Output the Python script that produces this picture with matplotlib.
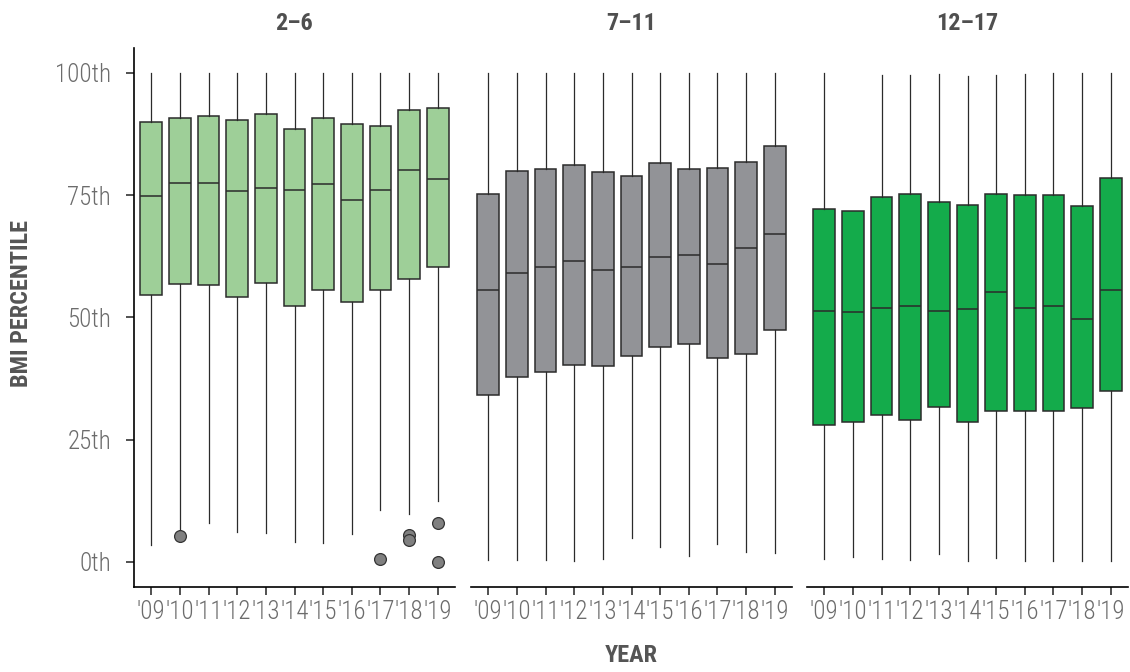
import matplotlib
matplotlib.use('Agg')
import matplotlib.pyplot as plt

plt.rcParams['font.family'] = ['Roboto Condensed', 'DejaVu Sans']

# data
years = ["'09", "'10", "'11", "'12", "'13", "'14", "'15", "'16", "'17", "'18", "'19"]
panels = ['2–6', '7–11', '12–17']
colors = ['#9ecf98', '#929397', '#14ab4b']

q1_26 = [54.6, 56.9, 56.7, 54.1, 57.1, 52.4, 55.7, 53.1, 55.6, 57.8, 60.3]
med_26 = [74.8, 77.4, 77.4, 75.9, 76.5, 76.0, 77.3, 74.0, 76.1, 80.2, 78.3]
q3_26 = [90.0, 90.8, 91.2, 90.3, 91.5, 88.6, 90.7, 89.5, 89.2, 92.4, 92.8]
lo_26 = [3.4, 6.4, 8.0, 6.1, 5.9, 4.0, 3.8, 5.7, 10.6, 9.8, 12.5]
hi_26 = [100, 100, 100, 100, 100, 100, 100, 100, 100, 100, 100]
out_26 = [[], [5.2], [], [], [], [], [], [], [0.6], [5.4, 4.4], [7.9, 0.0]]

q1_711 = [34.2, 37.8, 38.8, 40.2, 40.0, 42.1, 43.9, 44.6, 41.6, 42.6, 47.4]
med_711 = [55.5, 59.1, 60.4, 61.5, 59.6, 60.4, 62.3, 62.7, 60.9, 64.1, 67.1]
q3_711 = [75.3, 79.9, 80.3, 81.2, 79.8, 78.9, 81.5, 80.3, 80.5, 81.8, 85.1]
lo_711 = [0.4, 0.3, 0.4, 0.1, 0.6, 4.9, 3.0, 1.1, 3.7, 2.1, 1.8]
hi_711 = [100, 100, 100, 100, 100, 100, 100, 100, 100, 100, 100]

q1_1217 = [27.9, 28.5, 30.1, 29.0, 31.6, 28.6, 30.9, 30.9, 30.9, 31.4, 35.0]
med_1217 = [51.3, 51.1, 52.0, 52.3, 51.4, 51.8, 55.2, 51.9, 52.3, 49.6, 55.6]
q3_1217 = [72.2, 71.7, 74.6, 75.3, 73.5, 73.0, 75.2, 75.1, 75.0, 72.8, 78.6]
lo_1217 = [0.6, 1.0, 0.5, 0.4, 1.5, 0.2, 0.8, 0.1, 0.1, 0.1, 0.1]
hi_1217 = [100, 71.7, 99.5, 99.5, 99.7, 99.4, 99.6, 99.7, 99.9, 99.9, 99.9]

data = [
    (q1_26, med_26, q3_26, lo_26, hi_26, out_26),
    (q1_711, med_711, q3_711, lo_711, hi_711, [[] for _ in years]),
    (q1_1217, med_1217, q3_1217, lo_1217, hi_1217, [[] for _ in years]),
]

fig = plt.figure(figsize=(11.3, 6.72), dpi=100)
lefts = [134 / 1130, 471 / 1130, 807 / 1130]
for i, (title, color, (q1, med, q3, lo, hi, outs)) in enumerate(zip(panels, colors, data)):
    ax = fig.add_axes([lefts[i], 85 / 672, 321 / 1130, 539 / 672])
    stats = [dict(q1=a, med=b, q3=c, whislo=d, whishi=e, fliers=f)
             for a, b, c, d, e, f in zip(q1, med, q3, lo, hi, outs)]
    ax.bxp(stats, positions=range(1, len(years) + 1), widths=0.75, patch_artist=True,
           showcaps=False,
           boxprops=dict(facecolor=color, edgecolor='#2b2b2b', linewidth=1.1),
           medianprops=dict(color='#2b2b2b', linewidth=1.1),
           whiskerprops=dict(color='#2b2b2b', linewidth=0.9),
           flierprops=dict(marker='o', markerfacecolor='#808080', markeredgecolor='#333333',
                           markersize=8.5, markeredgewidth=0.9))
    ax.set_xlim(0.4, 11.6)
    ax.set_ylim(-5.15, 105.1)
    ax.set_xticks(range(1, len(years) + 1))
    ax.set_xticklabels(years)
    ax.set_title(title, fontsize=17.5, fontweight='bold', color='#4f4f4f', pad=13)
    for s in ['top', 'right']:
        ax.spines[s].set_visible(False)
    ax.spines['bottom'].set_linewidth(1.2)
    ax.spines['left'].set_linewidth(1.2)
    ax.tick_params(axis='both', length=5.5, width=1.1, color='#222222',
                   labelsize=18, labelcolor='#6c6c6c')
    ax.tick_params(axis='x', pad=4)
    ax.tick_params(axis='y', pad=11)
    if i == 0:
        ax.set_yticks([0, 25, 50, 75, 100])
        ax.set_yticklabels(['0th', '25th', '50th', '75th', '100th'])
    else:
        ax.spines['left'].set_visible(False)
        ax.set_yticks([])
    for lab in ax.get_xticklabels() + ax.get_yticklabels():
        lab.set_fontweight(300)

fig.text(631 / 1130, 1 - 656 / 672, 'YEAR', ha='center', va='center',
         fontsize=17.5, fontweight='bold', color='#555555')
fig.text(22 / 1130, 1 - 304 / 672, 'BMI PERCENTILE', ha='center', va='center',
         rotation=90, fontsize=17.5, fontweight='bold', color='#555555')

fig.savefig('out.png', dpi=100)
